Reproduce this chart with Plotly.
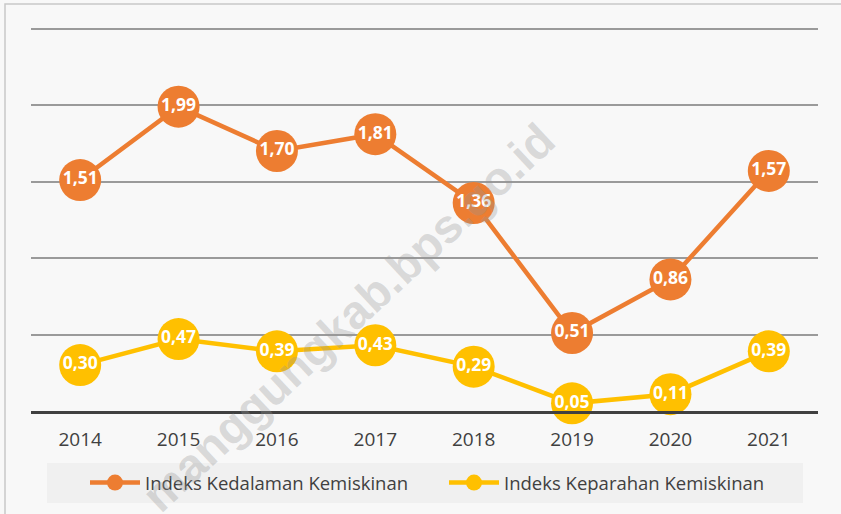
import plotly.graph_objects as go

years = ["2014", "2015", "2016", "2017", "2018", "2019", "2020", "2021"]
kedalaman = [1.51, 1.99, 1.70, 1.81, 1.36, 0.51, 0.86, 1.57]
keparahan = [0.30, 0.47, 0.39, 0.43, 0.29, 0.05, 0.11, 0.39]
names = ["Indeks Kedalaman Kemiskinan", "Indeks Keparahan Kemiskinan"]
colors = ["#ED7D31", "#FFC000"]

FONT = "'Open Sans', sans-serif"

fig = go.Figure()
for vals, name, col in [(kedalaman, names[0], colors[0]), (keparahan, names[1], colors[1])]:
    fig.add_trace(go.Scatter(
        x=years, y=vals, name=name, mode="lines+markers+text",
        line=dict(color=col, width=4.5),
        marker=dict(size=42, color=col),
        texttemplate="<b>%{y:.2f}</b>", textposition="middle center",
        textfont=dict(color="white", size=17.5, family=FONT),
        cliponaxis=False,
    ))

W, H = 841, 514
YMAX = 2.55
L, R, B = 31, 23, 103
PH = (411 - 29) * YMAX / 2.5
T = H - B - PH
PW = W - L - R

def py(pix):
    return (411 - pix) / PH

def px(pix):
    return (pix - L) / PW

fig.update_layout(
    width=W, height=H,
    margin=dict(l=L, r=R, t=T, b=B, autoexpand=False),
    paper_bgcolor="#f8f8f8", plot_bgcolor="#f8f8f8",
    separators=",.",
    font=dict(family=FONT, color="#404040"),
    showlegend=True,
    legend=dict(orientation="h", x=px(85), xanchor="left", y=py(483), yanchor="middle",
                bgcolor="rgba(0,0,0,0)", font=dict(size=18.5, color="#404040", family=FONT),
                entrywidth=294, itemwidth=50, traceorder="normal"),
    xaxis=dict(showgrid=False, showline=True, linecolor="#404040", linewidth=3,
               range=[-0.5, len(years) - 0.5],
               ticks="", ticklabelstandoff=9,
               tickfont=dict(size=19, color="#404040", family=FONT),
               fixedrange=True),
    yaxis=dict(range=[0, YMAX], dtick=0.5, showticklabels=False, showgrid=True,
               gridcolor="#9a9a9a", gridwidth=2, zeroline=False, ticks="", fixedrange=True),
)

# legend background box
fig.add_shape(type="rect", xref="paper", yref="paper",
              x0=px(47), x1=px(803), y0=py(503), y1=py(463),
              fillcolor="#f0f0f0", line=dict(width=0), layer="below")
# outer border
fig.add_shape(type="rect", xref="paper", yref="paper",
              x0=px(5), x1=px(845), y0=py(520), y1=py(4.5),
              fillcolor="rgba(0,0,0,0)", line=dict(width=1.5, color="#c8c8c8"), layer="below")

fig.add_annotation(text="manggungkab.bps.go.id", xref="paper", yref="paper",
                   x=px(348), y=py(318), xanchor="center", yanchor="middle",
                   showarrow=False, textangle=-43,
                   font=dict(size=47, color="rgba(150,150,150,0.33)",
                             family="'Liberation Sans', Arial, sans-serif", weight="bold"))

fig.write_html("out.html", config={"displayModeBar": False},
               post_script="document.body.style.margin='0';")
